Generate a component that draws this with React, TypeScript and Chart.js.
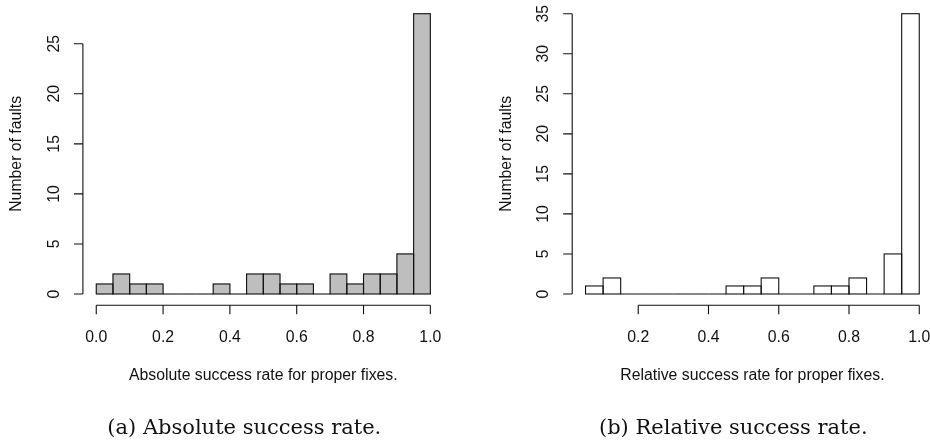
import React, { useEffect, useRef } from "react";
import { Chart, registerables } from "chart.js";

Chart.register(...registerables);

// ---- Data ----
const absoluteBreaks = [0.0, 0.05, 0.1, 0.15, 0.2, 0.25, 0.3, 0.35, 0.4, 0.45, 0.5, 0.55, 0.6, 0.65, 0.7, 0.75, 0.8, 0.85, 0.9, 0.95, 1.0];
const absoluteCounts = [1, 2, 1, 1, 0, 0, 0, 1, 0, 2, 2, 1, 1, 0, 2, 1, 2, 2, 4, 28];
const absoluteXTicks = [0.0, 0.2, 0.4, 0.6, 0.8, 1.0];
const absoluteYTicks = [0, 5, 10, 15, 20, 25];

const relativeBreaks = [0.05, 0.1, 0.15, 0.2, 0.25, 0.3, 0.35, 0.4, 0.45, 0.5, 0.55, 0.6, 0.65, 0.7, 0.75, 0.8, 0.85, 0.9, 0.95, 1.0];
const relativeCounts = [1, 2, 0, 0, 0, 0, 0, 0, 1, 1, 2, 0, 0, 1, 1, 2, 0, 5, 35];
const relativeXTicks = [0.2, 0.4, 0.6, 0.8, 1.0];
const relativeYTicks = [0, 5, 10, 15, 20, 25, 30, 35];

const yAxisTitle = "Number of faults";
const absoluteXTitle = "Absolute success rate for proper fixes.";
const relativeXTitle = "Relative success rate for proper fixes.";
const absoluteCaption = "(a) Absolute success rate.";
const relativeCaption = "(b) Relative success rate.";

const SANS = '15.8px "Liberation Sans", Arial, Helvetica, sans-serif';

type PanelProps = {
  breaks: number[];
  counts: number[];
  xTicks: number[];
  yTicks: number[];
  xTitle: string;
  fill: string;
  canvasLeft: number;
  canvasWidth: number;
  padding: { left: number; right: number; top: number; bottom: number };
};

function rStylePlugin(xTitle: string, yTitle: string) {
  return {
    id: "rstyle",
    afterDatasetsDraw(chart: any) {
      const ctx = chart.ctx;
      const meta = chart.getDatasetMeta(0);
      ctx.save();
      ctx.strokeStyle = "#111";
      ctx.lineWidth = 1.1;
      meta.data.forEach((el: any) => {
        const { x, y, base, width } = el.getProps(["x", "y", "base", "width"], true);
        ctx.strokeRect(x - width / 2, Math.min(y, base), width, Math.abs(base - y));
      });
      ctx.restore();
    },
    afterDraw(chart: any) {
      const ctx = chart.ctx;
      const xs = chart.scales.x;
      const ys = chart.scales.y;
      const area = chart.chartArea;
      const tickLen = 9;
      ctx.save();
      ctx.strokeStyle = "#111";
      ctx.fillStyle = "#111";
      ctx.lineWidth = 1.1;
      ctx.font = SANS;

      // x axis
      const xt = xs.ticks.map((t: any) => t.value);
      const xb = area.bottom;
      ctx.beginPath();
      ctx.moveTo(xs.getPixelForValue(xt[0]), xb);
      ctx.lineTo(xs.getPixelForValue(xt[xt.length - 1]), xb);
      xt.forEach((v: number) => {
        const px = xs.getPixelForValue(v);
        ctx.moveTo(px, xb);
        ctx.lineTo(px, xb + tickLen);
      });
      ctx.stroke();
      ctx.textAlign = "center";
      ctx.textBaseline = "alphabetic";
      xt.forEach((v: number) => {
        ctx.fillText(v.toFixed(1), xs.getPixelForValue(v), xb + 36.5);
      });
      ctx.fillText(xTitle, (area.left + area.right) / 2, xb + 74.3);

      // y axis
      const yt = ys.ticks.map((t: any) => t.value);
      const yl = area.left;
      ctx.beginPath();
      ctx.moveTo(yl, ys.getPixelForValue(yt[0]));
      ctx.lineTo(yl, ys.getPixelForValue(yt[yt.length - 1]));
      yt.forEach((v: number) => {
        const py = ys.getPixelForValue(v);
        ctx.moveTo(yl, py);
        ctx.lineTo(yl - tickLen, py);
      });
      ctx.stroke();
      ctx.textBaseline = "middle";
      yt.forEach((v: number) => {
        const py = ys.getPixelForValue(v);
        ctx.save();
        ctx.translate(yl - 28.5, py);
        ctx.rotate(-Math.PI / 2);
        ctx.fillText(String(v), 0, 0);
        ctx.restore();
      });
      ctx.save();
      ctx.translate(yl - 66, (area.top + area.bottom) / 2);
      ctx.rotate(-Math.PI / 2);
      ctx.fillText(yTitle, 0, 0);
      ctx.restore();
      ctx.restore();
    },
  };
}

function Panel(props: PanelProps) {
  const ref = useRef<HTMLCanvasElement | null>(null);
  useEffect(() => {
    if (!ref.current) return;
    const { breaks, counts, xTicks, yTicks } = props;
    const lo = breaks[0];
    const hi = breaks[breaks.length - 1];
    const span = hi - lo;
    const maxCount = Math.max(...counts);
    const points = counts.map((c, i) => ({ x: (breaks[i] + breaks[i + 1]) / 2, y: c }));
    const chart = new Chart(ref.current, {
      type: "bar",
      data: {
        datasets: [
          {
            data: points as any,
            backgroundColor: props.fill,
            borderWidth: 0,
            barPercentage: 1,
            categoryPercentage: 1,
          },
        ],
      },
      options: {
        animation: false,
        responsive: false,
        events: [],
        layout: { padding: props.padding },
        plugins: { legend: { display: false }, tooltip: { enabled: false } },
        scales: {
          x: {
            type: "linear",
            display: false,
            offset: false,
            min: lo - 0.04 * span,
            max: hi + 0.04 * span,
            afterBuildTicks: (s: any) => {
              s.ticks = xTicks.map((v) => ({ value: v }));
            },
          },
          y: {
            type: "linear",
            display: false,
            min: -0.04 * maxCount,
            max: 1.04 * maxCount,
            afterBuildTicks: (s: any) => {
              s.ticks = yTicks.map((v) => ({ value: v }));
            },
          },
        },
      },
      plugins: [rStylePlugin(props.xTitle, yAxisTitle)],
    });
    return () => chart.destroy();
  }, []);
  return (
    <canvas
      ref={ref}
      width={props.canvasWidth}
      height={448}
      style={{ position: "absolute", left: props.canvasLeft, top: 0, width: props.canvasWidth, height: 448, display: "block" }}
    />
  );
}

const captionStyle: React.CSSProperties = {
  position: "absolute",
  top: 417,
  width: 400,
  textAlign: "center",
  fontFamily: '"DejaVu Serif", "Liberation Serif", serif',
  fontSize: 21,
  lineHeight: "21px",
  color: "#111",
  whiteSpace: "nowrap",
};

export default function App() {
  return (
    <div style={{ position: "fixed", left: 0, top: 0, width: 930, height: 448, overflow: "hidden", background: "#fff" }}>
      <Panel
        breaks={absoluteBreaks}
        counts={absoluteCounts}
        xTicks={absoluteXTicks}
        yTicks={absoluteYTicks}
        xTitle={absoluteXTitle}
        fill="#bebebe"
        canvasLeft={0}
        canvasWidth={465}
        padding={{ left: 82.9, right: 21.3, top: 2.5, bottom: 142.8 }}
      />
      <Panel
        breaks={relativeBreaks}
        counts={relativeCounts}
        xTicks={relativeXTicks}
        yTicks={relativeYTicks}
        xTitle={relativeXTitle}
        fill="#ffffff"
        canvasLeft={465}
        canvasWidth={470}
        padding={{ left: 107.2, right: 2.4, top: 2.5, bottom: 142.8 }}
      />
      <div style={{ ...captionStyle, left: 244.3 - 200 }}>{absoluteCaption}</div>
      <div style={{ ...captionStyle, left: 733.3 - 200 }}>{relativeCaption}</div>
    </div>
  );
}
